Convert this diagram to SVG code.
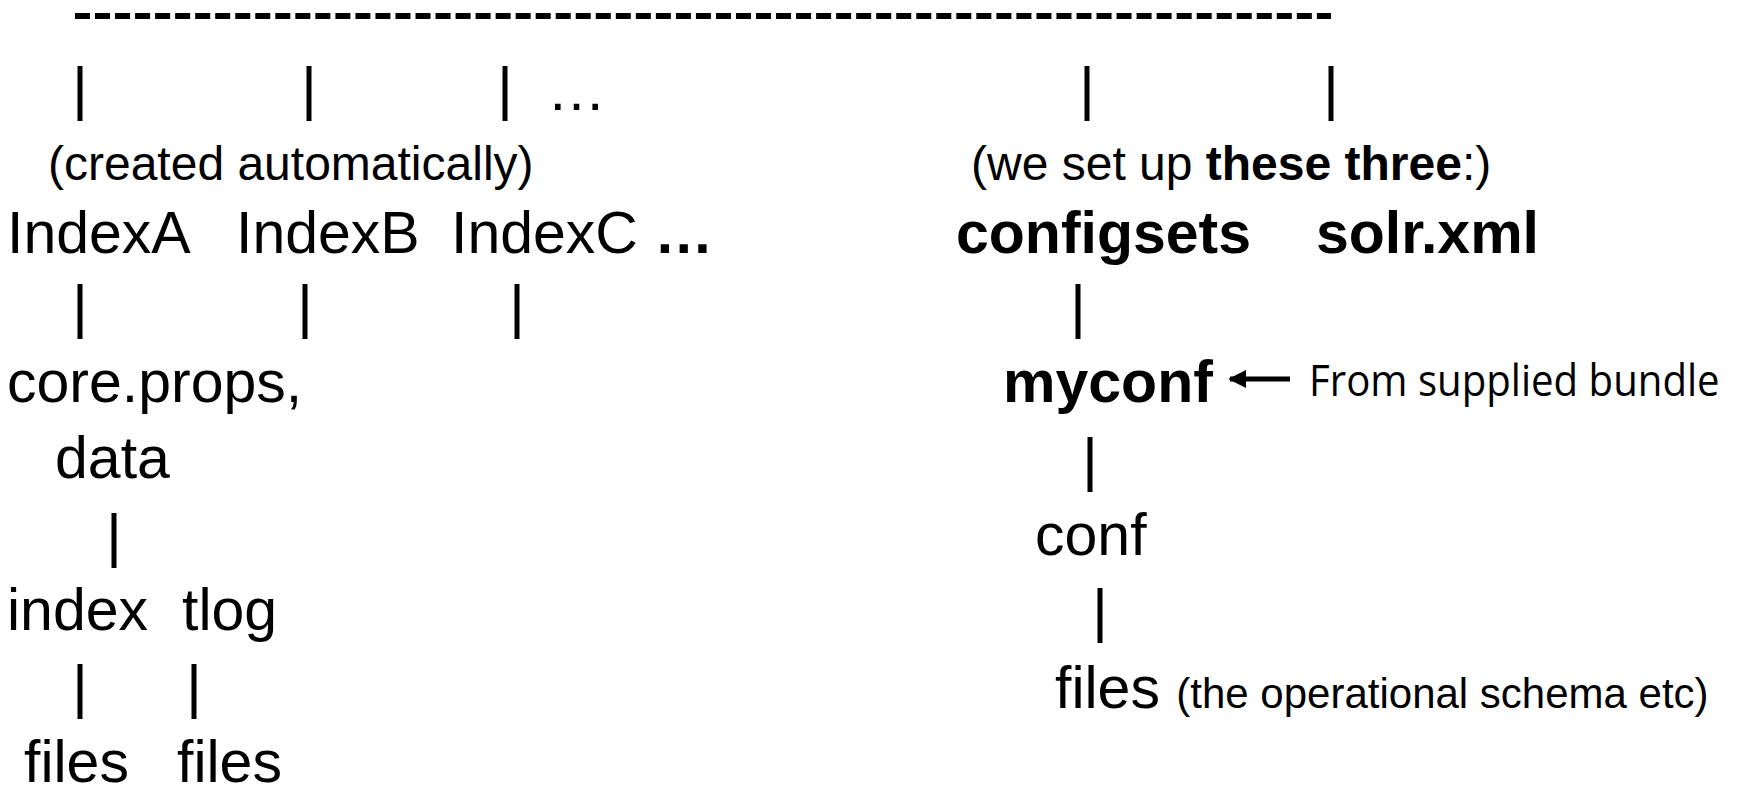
<svg xmlns="http://www.w3.org/2000/svg" width="1739" height="792" viewBox="0 0 1739 792">
  <style>
    text { font-family: "Liberation Sans", Arial, sans-serif; fill: #000; }
    .big { font-size: 59px; }
    .mid { font-size: 48px; }
    .small { font-size: 42px; }
    .b { font-weight: bold; }
    .note { font-family: "Open Sans", "Noto Sans", sans-serif; font-size: 43px; }
    .bar { stroke: #000; stroke-width: 5; fill: none; }
    .rule { stroke: #000; stroke-width: 6; stroke-dasharray: 15 5.03; fill: none; }
  </style>
  <defs>
    <marker id="head" viewBox="0 0 10 10" refX="9" refY="5" markerWidth="3.6" markerHeight="3.6" orient="auto" markerUnits="strokeWidth">
      <path d="M0,0 L10,5 L0,10 z" fill="#000"/>
    </marker>
  </defs>

  <rect width="1739" height="792" fill="#fff"/>

  <!-- top rule and tree branches -->
  <g id="connectors">
    <line class="rule" x1="75" y1="16" x2="1331" y2="16"/>
    <line class="bar" x1="80" y1="66" x2="80" y2="121"/>
    <line class="bar" x1="309" y1="66" x2="309" y2="121"/>
    <line class="bar" x1="505" y1="66" x2="505" y2="121"/>
    <line class="bar" x1="1087" y1="66" x2="1087" y2="121"/>
    <line class="bar" x1="1331" y1="66" x2="1331" y2="121"/>

    <line class="bar" x1="80" y1="284" x2="80" y2="339"/>
    <line class="bar" x1="305" y1="284" x2="305" y2="339"/>
    <line class="bar" x1="517" y1="284" x2="517" y2="339"/>
    <line class="bar" x1="1078" y1="284" x2="1078" y2="339"/>

    <line class="bar" x1="114" y1="513" x2="114" y2="568"/>
    <line class="bar" x1="1090" y1="437" x2="1090" y2="492"/>
    <line class="bar" x1="1100" y1="588" x2="1100" y2="643"/>

    <line class="bar" x1="80" y1="664" x2="80" y2="719"/>
    <line class="bar" x1="194" y1="664" x2="194" y2="719"/>

    <line x1="1290" y1="379" x2="1230" y2="379" stroke="#000" stroke-width="5" marker-end="url(#head)"/>
  </g>

  <g id="more-branches">
    <text class="big" x="547" y="110" fill="#222">…</text>
  </g>

  <g id="auto-note">
    <text class="mid" x="48" y="180">(created automatically)</text>
  </g>
  <g id="setup-note">
    <text class="mid" x="971" y="180">(we set up <tspan class="b">these three</tspan>:)</text>
  </g>

  <g id="indexA"><text class="big" x="7" y="253">IndexA</text></g>
  <g id="indexB"><text class="big" x="236" y="253">IndexB</text></g>
  <g id="indexC"><text class="big" x="451" y="253">IndexC <tspan class="b">…</tspan></text></g>
  <g id="configsets"><text class="big b" x="956" y="253">configsets</text></g>
  <g id="solr-xml"><text class="big b" x="1316" y="253">solr.xml</text></g>

  <g id="core-props"><text class="big" x="7" y="402">core.props,</text></g>
  <g id="myconf"><text class="big b" x="1003" y="402">myconf</text></g>
  <!-- condensed label: narrowed horizontally to sit beside the arrow -->
  <g id="bundle-note" transform="translate(1309,396) scale(0.934,1)"><text class="note" x="0" y="0">From supplied bundle</text></g>

  <g id="data"><text class="big" x="55" y="478">data</text></g>
  <g id="conf"><text class="big" x="1035" y="555">conf</text></g>

  <g id="index"><text class="big" x="7" y="630">index</text></g>
  <g id="tlog"><text class="big" x="182" y="630">tlog</text></g>

  <g id="conf-files"><text class="big" x="1055" y="708">files <tspan class="small">(the operational schema etc)</tspan></text></g>

  <g id="index-files"><text class="big" x="24" y="782">files</text></g>
  <g id="tlog-files"><text class="big" x="177" y="782">files</text></g>
</svg>
